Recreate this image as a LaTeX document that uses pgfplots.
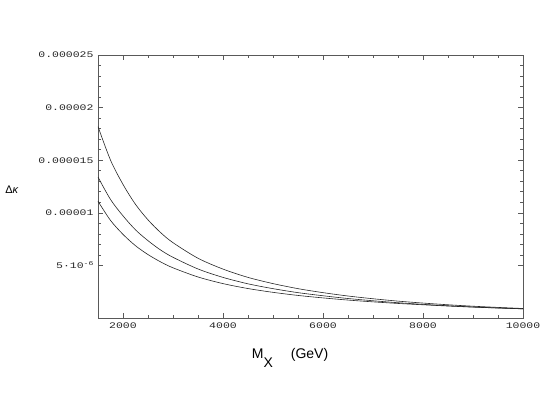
\documentclass[border=0pt]{standalone}
\usepackage{fontspec}
\usepackage{pgfplots}
\pgfplotsset{compat=1.18}
\setmainfont{Liberation Sans}
\newfontfamily\tickfont[FakeStretch=1.35]{Liberation Mono}

% M_X (GeV), three curves of Delta kappa
\pgfplotstableread{
M      top       mid       bot
1500   1.82e-5   1.34e-5   1.11e-5
1750   1.501e-5  1.127e-5  9.28e-6
2000   1.270e-5  9.71e-6   7.95e-6
2250   1.080e-5  8.38e-6   6.87e-6
2500   9.33e-6   7.35e-6   6.03e-6
2750   8.13e-6   6.47e-6   5.34e-6
3000   7.16e-6   5.77e-6   4.77e-6
3500   5.68e-6   4.66e-6   3.90e-6
4000   4.65e-6   3.86e-6   3.27e-6
4500   3.86e-6   3.25e-6   2.80e-6
5000   3.27e-6   2.79e-6   2.44e-6
5500   2.79e-6   2.41e-6   2.145e-6
6000   2.41e-6   2.115e-6  1.91e-6
6500   2.09e-6   1.853e-6  1.705e-6
7000   1.83e-6   1.64e-6   1.534e-6
7500   1.605e-6  1.453e-6  1.383e-6
8000   1.42e-6   1.298e-6  1.256e-6
8500   1.258e-6  1.164e-6  1.137e-6
9000   1.122e-6  1.050e-6  1.034e-6
9500   1.007e-6  0.955e-6  0.946e-6
10000  0.905e-6  0.875e-6  0.869e-6
}\kappadata

\begin{document}
\begin{tikzpicture}
\path[use as bounding box] (-98pt,-81pt) rectangle (447pt,318pt);
\begin{axis}[
    scale only axis,
    width=425pt, height=263pt,
    at={(0,0)}, anchor=south west,
    xmin=1500, xmax=10000,
    ymin=0, ymax=2.5e-5,
    xtick={2000,4000,6000,8000,10000},
    xticklabels={2000,4000,6000,8000,10000},
    minor x tick num=3,
    ytick={5e-6,1e-5,1.5e-5,2e-5,2.5e-5},
    yticklabels={{5·10\raisebox{0.7ex}{\fontsize{6}{6}\selectfont -6}},0.00001,0.000015,0.00002,0.000025},
    minor y tick num=4,
    scaled ticks=false,
    tick align=inside,
    tick pos=both,
    xticklabel pos=bottom, yticklabel pos=left,
    major tick length=5pt, minor tick length=3pt,
    ticklabel style={font=\tickfont\fontsize{8.5}{10}\selectfont, text=black!85},
    xticklabel style={yshift=-1pt},
    yticklabel style={xshift=-1pt},
    axis line style={black!65, line width=0.8pt},
    every tick/.style={black!65, line width=0.6pt},
]
\addplot[black!85, line width=0.6pt, smooth] table[x=M, y=top] {\kappadata};
\addplot[black!85, line width=0.6pt, smooth] table[x=M, y=mid] {\kappadata};
\addplot[black!85, line width=0.6pt, smooth] table[x=M, y=bot] {\kappadata};
\end{axis}
\node[anchor=center, font=\fontsize{11}{12}\selectfont] at (-86pt,128pt) {Δ\textit{κ}};
\node[anchor=base west, font=\fontsize{14}{16}\selectfont, inner sep=0pt] at (153.7pt,-40pt)
    {M\raisebox{-9pt}{X}\hspace{18pt}(GeV)};
\end{tikzpicture}
\end{document}
